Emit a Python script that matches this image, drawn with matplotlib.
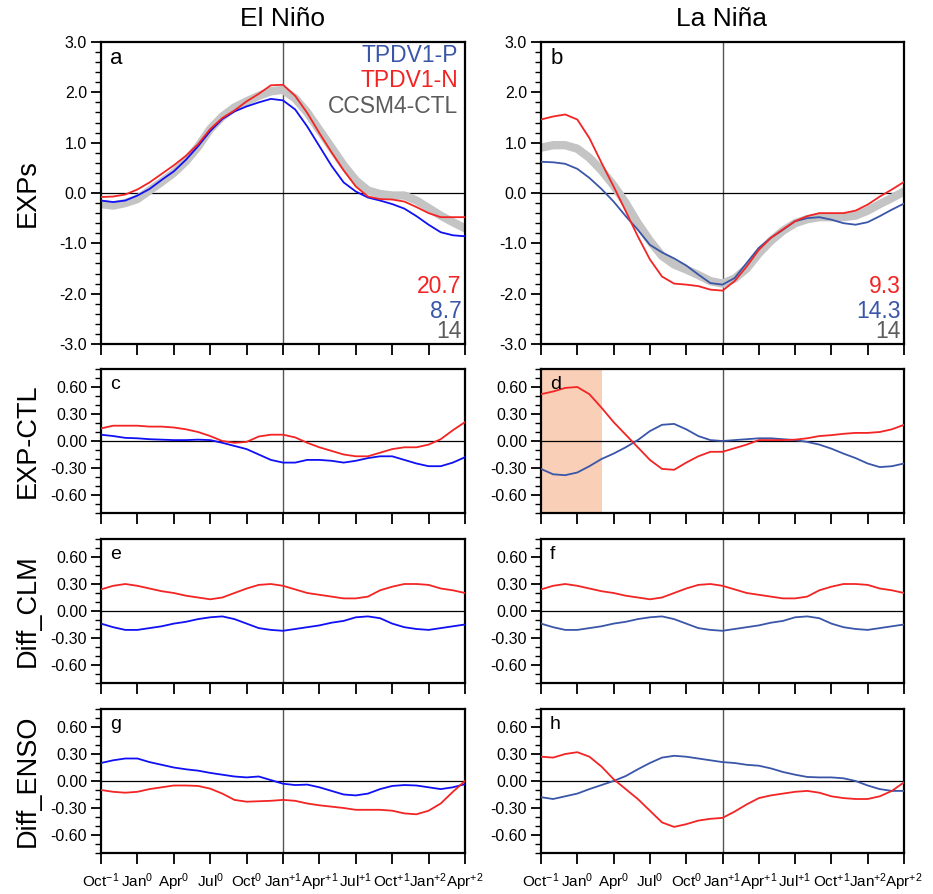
import matplotlib
matplotlib.use('Agg')
import matplotlib.pyplot as plt
import numpy as np

plt.rcParams['font.family'] = ['Liberation Sans', 'DejaVu Sans']
plt.rcParams['mathtext.fontset'] = 'custom'
plt.rcParams['mathtext.rm'] = 'Liberation Sans'
plt.rcParams['mathtext.it'] = 'Liberation Sans'

# months Oct(-1) .. Apr(+2)
months = np.arange(31)
tick_pos = np.arange(0, 31, 3)
tick_labels = ['Oct$^{-1}$', 'Jan$^{0}$', 'Apr$^{0}$', 'Jul$^{0}$', 'Oct$^{0}$',
               'Jan$^{+1}$', 'Apr$^{+1}$', 'Jul$^{+1}$', 'Oct$^{+1}$', 'Jan$^{+2}$', 'Apr$^{+2}$']

# a: El Nino EXPs
a_n = [-0.08, -0.07, -0.03, 0.07, 0.21, 0.38, 0.55, 0.74, 0.97, 1.27, 1.49, 1.64, 1.82, 1.97, 2.14, 2.15,
       1.93, 1.59, 1.19, 0.81, 0.45, 0.13, -0.07, -0.12, -0.13, -0.17, -0.28, -0.40, -0.48, -0.48, -0.48]
a_p = [-0.15, -0.18, -0.15, -0.05, 0.08, 0.26, 0.43, 0.66, 0.93, 1.23, 1.47, 1.62, 1.72, 1.80, 1.87, 1.84,
       1.66, 1.32, 0.93, 0.54, 0.21, 0.03, -0.09, -0.15, -0.22, -0.31, -0.46, -0.63, -0.78, -0.84, -0.86]
a_ctl = [-0.22, -0.25, -0.20, -0.12, 0.05, 0.22, 0.40, 0.63, 0.92, 1.27, 1.52, 1.70, 1.82, 1.93, 2.02, 2.05,
         1.88, 1.60, 1.25, 0.90, 0.55, 0.25, 0.05, -0.02, -0.05, -0.05, -0.15, -0.30, -0.45, -0.58, -0.70]

# b: La Nina EXPs
b_n = [1.46, 1.52, 1.56, 1.46, 1.09, 0.60, 0.13, -0.36, -0.86, -1.32, -1.66, -1.80, -1.82, -1.85, -1.92, -1.94,
       -1.75, -1.46, -1.13, -0.89, -0.72, -0.56, -0.46, -0.40, -0.40, -0.40, -0.35, -0.23, -0.07, 0.07, 0.22]
b_p = [0.62, 0.61, 0.58, 0.48, 0.30, 0.08, -0.17, -0.46, -0.73, -1.03, -1.18, -1.30, -1.44, -1.62, -1.79, -1.82,
       -1.69, -1.39, -1.09, -0.89, -0.73, -0.56, -0.50, -0.48, -0.53, -0.60, -0.63, -0.58, -0.46, -0.33, -0.21]
b_ctl = [0.90, 0.95, 0.95, 0.88, 0.70, 0.45, 0.15, -0.20, -0.60, -0.95, -1.25, -1.42, -1.52, -1.63, -1.75, -1.80,
         -1.70, -1.50, -1.20, -0.95, -0.75, -0.60, -0.52, -0.48, -0.48, -0.48, -0.45, -0.35, -0.22, -0.10, 0.03]

# c: El Nino EXP-CTL
c_n = [0.14, 0.17, 0.17, 0.17, 0.16, 0.16, 0.15, 0.13, 0.10, 0.055, 0.0, -0.02, -0.01, 0.05, 0.07, 0.07,
       0.04, -0.02, -0.07, -0.11, -0.15, -0.17, -0.17, -0.13, -0.09, -0.07, -0.07, -0.04, 0.02, 0.12, 0.21]
c_p = [0.07, 0.055, 0.035, 0.03, 0.02, 0.015, 0.01, 0.01, 0.015, 0.01, -0.02, -0.055, -0.09, -0.15, -0.21, -0.24,
       -0.24, -0.21, -0.21, -0.22, -0.24, -0.22, -0.19, -0.17, -0.17, -0.21, -0.25, -0.28, -0.28, -0.24, -0.18]

# d: La Nina EXP-CTL
d_n = [0.52, 0.55, 0.59, 0.60, 0.52, 0.37, 0.21, 0.07, -0.07, -0.21, -0.31, -0.32, -0.24, -0.17, -0.12, -0.12,
       -0.08, -0.04, 0.01, 0.01, 0.01, 0.015, 0.03, 0.055, 0.065, 0.08, 0.09, 0.09, 0.10, 0.13, 0.18]
d_p = [-0.31, -0.37, -0.38, -0.35, -0.28, -0.20, -0.14, -0.07, 0.01, 0.11, 0.18, 0.19, 0.13, 0.055, 0.01, 0.0,
       0.01, 0.02, 0.03, 0.03, 0.02, 0.01, -0.01, -0.04, -0.085, -0.14, -0.19, -0.25, -0.29, -0.28, -0.25]
d_shade = [0, 5]

# e/f: Diff_CLM
clm_n = [0.24, 0.28, 0.30, 0.28, 0.25, 0.22, 0.20, 0.17, 0.15, 0.13, 0.15, 0.20, 0.25, 0.29, 0.30, 0.28,
         0.24, 0.20, 0.18, 0.16, 0.14, 0.14, 0.16, 0.23, 0.27, 0.30, 0.30, 0.29, 0.25, 0.23, 0.20]
clm_p = [-0.14, -0.18, -0.21, -0.21, -0.19, -0.17, -0.14, -0.12, -0.09, -0.07, -0.06, -0.09, -0.14, -0.19, -0.21, -0.22,
         -0.20, -0.18, -0.16, -0.13, -0.11, -0.07, -0.06, -0.08, -0.14, -0.18, -0.20, -0.21, -0.19, -0.17, -0.15]

# g: El Nino Diff_ENSO
g_p = [0.20, 0.23, 0.25, 0.25, 0.21, 0.18, 0.15, 0.13, 0.115, 0.09, 0.07, 0.05, 0.04, 0.05, 0.01, -0.03,
       -0.045, -0.04, -0.07, -0.11, -0.15, -0.16, -0.14, -0.09, -0.055, -0.045, -0.05, -0.07, -0.09, -0.07, -0.035]
g_n = [-0.10, -0.12, -0.13, -0.12, -0.09, -0.07, -0.05, -0.05, -0.055, -0.085, -0.14, -0.21, -0.23, -0.225, -0.22, -0.21,
       -0.22, -0.25, -0.27, -0.285, -0.30, -0.32, -0.32, -0.32, -0.33, -0.36, -0.37, -0.33, -0.25, -0.12, 0.0]

# h: La Nina Diff_ENSO
h_n = [0.27, 0.26, 0.30, 0.32, 0.27, 0.16, 0.02, -0.09, -0.20, -0.33, -0.46, -0.51, -0.48, -0.44, -0.42, -0.41,
       -0.34, -0.26, -0.19, -0.16, -0.14, -0.12, -0.11, -0.13, -0.17, -0.19, -0.20, -0.20, -0.17, -0.11, -0.015]
h_p = [-0.18, -0.20, -0.17, -0.14, -0.09, -0.045, 0.0, 0.055, 0.13, 0.20, 0.26, 0.28, 0.27, 0.25, 0.23, 0.21,
       0.20, 0.18, 0.17, 0.14, 0.10, 0.07, 0.045, 0.04, 0.04, 0.03, 0.0, -0.05, -0.09, -0.11, -0.11]

a_nums = ['20.7', '8.7', '14']
b_nums = ['9.3', '14.3', '14']

RED = '#f22424'
BLUE_L = '#1010f5'
BLUE_R = '#3a56a8'
GRAY = '#c4c4c4'
GRAYTXT = '#5c5c5c'

W, H = 933, 894
fig = plt.figure(figsize=(W / 100, H / 100), dpi=100)

cols = [(101, 364), (541, 363)]
rows = [(42, 344), (369, 513), (539, 683), (709, 853)]


def make_ax(col, row):
    x0, w = cols[col]
    top, bot = rows[row]
    ax = fig.add_axes([x0 / W, 1 - bot / H, w / W, (bot - top) / H])
    ax.set_xlim(0, 30)
    ax.set_xticks(tick_pos)
    if row == 3:
        ax.set_xticklabels(tick_labels, fontsize=11)
    else:
        ax.set_xticklabels([])
    if row == 0:
        ax.set_ylim(-3, 3)
        ax.set_yticks(np.arange(-3, 3.1, 1.0))
        ax.set_yticklabels(['%.1f' % v for v in np.arange(-3, 3.1, 1.0)])
        ax.set_yticks(np.arange(-3, 3.01, 0.2), minor=True)
    else:
        ax.set_ylim(-0.8, 0.8)
        ax.set_yticks([-0.6, -0.3, 0, 0.3, 0.6])
        ax.set_yticklabels(['-0.60', '-0.30', '0.00', '0.30', '0.60'])
        ax.set_yticks(np.arange(-0.8, 0.81, 0.1), minor=True)
    ax.tick_params(axis='y', which='major', direction='out', length=7, width=1.3, labelsize=11.5, pad=3)
    ax.tick_params(axis='y', which='minor', direction='out', length=4, width=1.0)
    ax.tick_params(axis='x', which='major', direction='out', length=8, width=1.3, pad=5)
    ax.tick_params(axis='x', which='minor', bottom=False)
    for s in ax.spines.values():
        s.set_linewidth(1.6)
    ax.axvline(15, color='#555555', lw=1.0, zorder=1)
    ax.axhline(0, color='black', lw=0.9, zorder=1)
    return ax


letters = 'abcdefgh'
panels = [
    (0, 0, a_n, a_p, a_ctl, BLUE_L),
    (1, 0, b_n, b_p, b_ctl, BLUE_R),
    (0, 1, c_n, c_p, None, BLUE_L),
    (1, 1, d_n, d_p, None, BLUE_R),
    (0, 2, clm_n, clm_p, None, BLUE_L),
    (1, 2, clm_n, clm_p, None, BLUE_R),
    (0, 3, g_n, g_p, None, BLUE_L),
    (1, 3, h_n, h_p, None, BLUE_R),
]

for k, (col, row, yn, yp, yc, bcol) in enumerate(panels):
    ax = make_ax(col, row)
    if k == 3:
        ax.axvspan(d_shade[0], d_shade[1], color='#f9cfb8', lw=0, zorder=0)
    if yc is not None:
        ax.plot(months, yc, color=GRAY, lw=6, solid_capstyle='round', zorder=2)
    ax.plot(months, yp, color=bcol, lw=1.3, zorder=3)
    ax.plot(months, yn, color=RED, lw=1.3, zorder=3)
    if row == 0:
        ax.text(0.025, 0.945, letters[k], transform=ax.transAxes, fontsize=16, va='center', ha='left')
    else:
        ax.text(0.025, 0.89, letters[k], transform=ax.transAxes, fontsize=14, va='center', ha='left')

    if k == 0:
        ax.text(0.981, 0.954, 'TPDV1-P', color=BLUE_R, transform=ax.transAxes, fontsize=16.5, ha='right', va='center')
        ax.text(0.981, 0.871, 'TPDV1-N', color=RED, transform=ax.transAxes, fontsize=16.5, ha='right', va='center')
        ax.text(0.981, 0.788, 'CCSM4-CTL', color=GRAYTXT, transform=ax.transAxes, fontsize=16.5, ha='right', va='center')
    if row == 0:
        nums = a_nums if k == 0 else b_nums
        cl = [RED, BLUE_R, GRAYTXT]
        for j, yy in enumerate([0.189, 0.109, 0.040]):
            ax.text(0.99, yy, nums[j], color=cl[j], transform=ax.transAxes, fontsize=16.5, ha='right', va='center')

fig.text(283 / W, 1 - 19 / H, 'El Niño', fontsize=19, ha='center', va='center')
fig.text(722 / W, 1 - 19 / H, 'La Niña', fontsize=19, ha='center', va='center')

for lab, yc in zip(['EXPs', 'EXP-CTL', 'Diff_CLM', 'Diff_ENSO'], [193, 441, 611, 781]):
    fig.text(28 / W, 1 - yc / H, lab, fontsize=19.5, rotation=90, ha='center', va='center')

fig.savefig('out.png', dpi=100)
